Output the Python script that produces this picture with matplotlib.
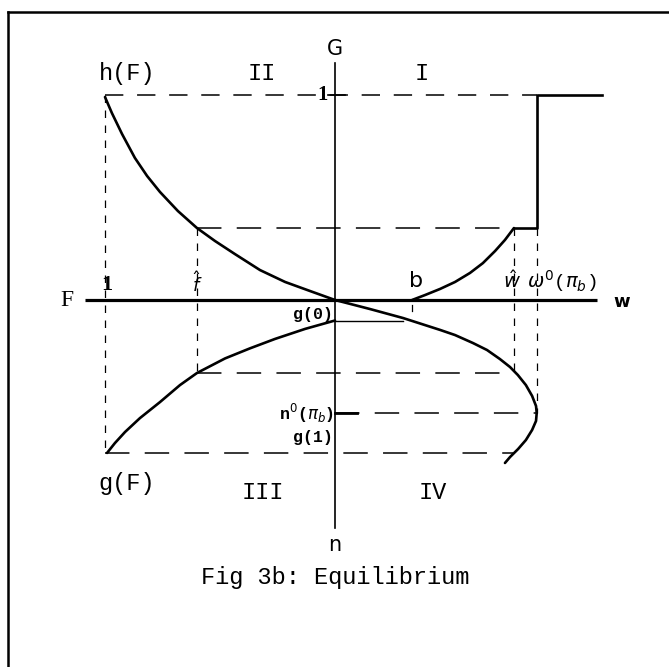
import matplotlib
matplotlib.use("Agg")
import matplotlib.pyplot as plt
from matplotlib.lines import Line2D

# ---------------------------------------------------------------
# four-quadrant equilibrium diagram
#   left  = F  (scaled so F = 1 sits at -1)
#   right = w
#   up    = G  (G = 1 sits at +1)
#   down  = n
# ---------------------------------------------------------------

# key levels on each axis
F_ONE = -1.0      # F = 1
F_HAT = -0.60     # threshold on F
B = 0.335         # b on the w axis
W_HAT = 0.778     # w hat
W0 = 0.877        # omega0(pi_b)
W_END = 1.16      # right end of the G = 1 segment
G_ONE = 1.0
G_HAT = 0.351
G_ZERO = -0.100   # g(0)
N_HAT = -0.356
N0 = -0.551       # n0(pi_b)
G_ONE_N = -0.746  # g(1)

# quadrant II : h(F)
h_x = [-1.0, -0.970, -0.926, -0.870, -0.817, -0.761, -0.683, -0.60,
       -0.522, -0.435, -0.326, -0.217, -0.109, 0.0]
h_y = [0.990, 0.912, 0.810, 0.693, 0.605, 0.527, 0.434, 0.351,
       0.288, 0.224, 0.146, 0.088, 0.044, 0.0]

# quadrant I : from b up to w hat
i_x = [0.335, 0.391, 0.457, 0.522, 0.587, 0.643, 0.696, 0.739, 0.778]
i_y = [0.0, 0.024, 0.054, 0.088, 0.132, 0.180, 0.239, 0.293, 0.351]

# quadrant III : g(F)
g_x = [-0.991, -0.957, -0.913, -0.848, -0.761, -0.674, -0.60, -0.478,
       -0.370, -0.261, -0.130, 0.0]
g_y = [-0.746, -0.698, -0.644, -0.576, -0.498, -0.415, -0.356, -0.285,
       -0.236, -0.190, -0.141, -0.100]

# quadrant IV : n against w, bends back below n0
iv_x = [0.0, 0.152, 0.296, 0.457, 0.522, 0.60, 0.661, 0.717, 0.761, 0.795,
        0.830, 0.857, 0.874, 0.877, 0.874, 0.857, 0.830, 0.796, 0.761, 0.739]
iv_y = [0.0, -0.044, -0.088, -0.146, -0.171, -0.210, -0.244, -0.288, -0.327,
        -0.366, -0.415, -0.468, -0.517, -0.551, -0.590, -0.634, -0.683,
        -0.727, -0.766, -0.795]

W, H = 669, 667
fig = plt.figure(figsize=(W / 100, H / 100), dpi=100)
ax = fig.add_axes([0, 0, 1, 1])
ax.set_xlim(-335 / 230, (W - 335) / 230)
ax.set_ylim((300 - H) / 205, 300 / 205)
ax.axis("off")

K = "black"
MONO = "Liberation Mono"
dash_long = (0, (16, 10))
dash_short = (0, (6, 6))

# axes
ax.plot([-1.087, 1.14], [0, 0], color=K, lw=2.3, solid_capstyle="butt")
ax.plot([0, 0], [-1.112, 1.156], color=K, lw=1.2)

# curves
for xs, ys in [(h_x, h_y), (i_x, i_y), (g_x, g_y), (iv_x, iv_y)]:
    ax.plot(xs, ys, color=K, lw=1.9, solid_joinstyle="round", solid_capstyle="round")

# step at omega0 and G = 1
ax.plot([W_HAT, W0, W0, W_END], [G_HAT, G_HAT, G_ONE, G_ONE], color=K, lw=1.9)

# dashed guides
ax.plot([F_ONE, W0], [G_ONE, G_ONE], color=K, lw=1.1, ls=(0, (12, 9)))
ax.plot([F_HAT, W_HAT], [G_HAT, G_HAT], color=K, lw=1.1, ls=dash_long)
ax.plot([F_HAT, W_HAT], [N_HAT, N_HAT], color=K, lw=1.1, ls=dash_long)
ax.plot([0, W0], [N0, N0], color=K, lw=1.1, ls=dash_long)
ax.plot([F_ONE, 0.775], [G_ONE_N, G_ONE_N], color=K, lw=1.1, ls=dash_long)
ax.plot([F_ONE, F_ONE], [G_ONE, G_ONE_N], color=K, lw=0.9, ls=dash_short)
ax.plot([F_HAT, F_HAT], [G_HAT, N_HAT], color=K, lw=0.9, ls=dash_short)
ax.plot([W_HAT, W_HAT], [G_HAT, N_HAT], color=K, lw=0.9, ls=dash_short)
ax.plot([W0, W0], [G_HAT, N0], color=K, lw=0.9, ls=dash_short)

# g(0) level, n0 tick, small marks
ax.plot([0, 0.296], [G_ZERO, G_ZERO], color=K, lw=1.0)
ax.plot([0, 0.095], [N0, N0], color=K, lw=2.0)
ax.plot([-0.03, 0.045], [G_ONE, G_ONE], color=K, lw=1.2)
ax.plot([B, B], [-0.025, -0.055], color=K, lw=0.9)

# labels
mono = dict(family=MONO, color=K, ha="center", va="center")
ax.text(-0.905, 1.107, "h(F)", fontsize=17, **mono)
ax.text(-0.317, 1.107, "II", fontsize=17, **mono)
ax.text(0.378, 1.107, "I", fontsize=17, **mono)
ax.text(-0.905, -0.893, "g(F)", fontsize=17, **mono)
ax.text(-0.313, -0.941, "III", fontsize=17, **mono)
ax.text(0.426, -0.941, "IV", fontsize=17, **mono)

small = dict(family=MONO, color=K, ha="right", va="center", fontsize=12,
             weight="bold")
ax.text(-0.01, -0.073, "g(0)", **small)
ax.text(-0.01, -0.673, "g(1)", **small)
ax.text(-0.005, N0, r"n$^0$($\pi_b$)", **small)

ax.text(0.0, 1.225, "G", fontsize=15, family="DejaVu Sans", ha="center", va="center")
ax.text(0.0, -1.195, "n", fontsize=15, family="DejaVu Sans", ha="center", va="center")
ax.text(-0.03, 1.0, "1", fontsize=15, family="Liberation Serif", weight="bold",
        ha="right", va="center")
ax.text(-1.165, 0.0, "F", fontsize=17, family="Liberation Serif", ha="center", va="center")
ax.text(-0.99, 0.075, "1", fontsize=16, family="Liberation Serif", weight="bold",
        ha="center", va="center")
ax.text(F_HAT, 0.08, r"$\hat{f}$", fontsize=13, ha="center", va="center")
ax.text(0.352, 0.093, "b", fontsize=16, family="DejaVu Sans", ha="center", va="center")
ax.text(0.77, 0.093, r"$\hat{w}$", fontsize=14, ha="center", va="center")
ax.text(0.835, 0.093, r"$\omega^0$($\pi_b$)", fontsize=14, family=MONO,
        ha="left", va="center")
ax.text(1.248, -0.01, "w", fontsize=13, family="DejaVu Sans", weight="bold",
        ha="center", va="center")

ax.text(0.0, -1.355, "Fig 3b: Equilibrium", fontsize=17, family=MONO,
        ha="center", va="center")

# page frame, left and top edges only
fig.add_artist(Line2D([8 / W, 8 / W], [0, 1 - 12 / H], color=K, lw=1.8,
                      transform=fig.transFigure))
fig.add_artist(Line2D([8 / W, 1], [1 - 12 / H, 1 - 12 / H], color=K, lw=1.8,
                      transform=fig.transFigure))

fig.savefig("out.png", dpi=100)
